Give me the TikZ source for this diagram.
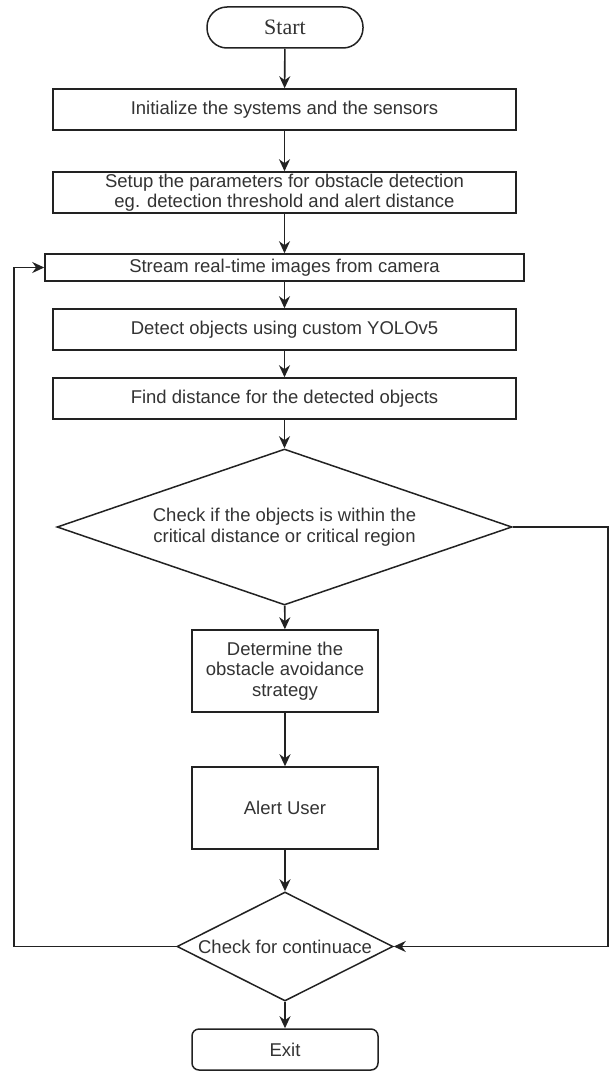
\documentclass[tikz,border=0pt]{standalone}
\usepackage{fontspec}
\setmainfont{Liberation Sans}
\newfontfamily\serifstart{Liberation Serif}
\usetikzlibrary{shapes.geometric,arrows.meta}
\definecolor{ln}{HTML}{222222}
\definecolor{tx}{HTML}{333333}
\tikzset{
  box/.style={draw=ln,line width=1.5pt,fill=white,inner sep=0pt,align=center,text=tx,font=\fontsize{18.5}{20.5}\selectfont},
  dia/.style={draw=ln,line width=1.5pt,diamond,inner sep=0pt,align=center,text=tx,font=\fontsize{18.5}{20.5}\selectfont},
  arr/.style={draw=ln,line width=1.6pt,-{Stealth[length=12pt,width=11pt]}}
}
\begin{document}
\begin{tikzpicture}[x=1pt,y=-1pt]
\useasboundingbox (0,0) rectangle (614,1073);
\node[box,rounded corners=20pt,minimum width=156pt,minimum height=41pt,font=\serifstart\fontsize{22}{24}\selectfont] (start) at (285,27.5) {Start};
\node[box,minimum width=463pt,minimum height=41pt] (init) at (284.5,109.5) {Initialize the systems and the sensors};
\node[box,minimum width=463pt,minimum height=41pt] (setup) at (284.5,192.5) {Setup the parameters for obstacle detection\\eg. detection threshold and alert distance};
\node[box,minimum width=479pt,minimum height=27pt] (stream) at (284.5,267.5) {Stream real-time images from camera};
\node[box,minimum width=463pt,minimum height=41pt] (detect) at (284.5,329.5) {Detect objects using custom YOLOv5};
\node[box,minimum width=463pt,minimum height=41pt] (find) at (284.5,398.5) {Find distance for the detected objects};
\node[dia,aspect=2.9,minimum width=455pt,minimum height=156pt] (chk) at (284.5,527) {Check if the objects is within the\\critical distance or critical region};
\node[box,minimum width=186pt,minimum height=82pt] (det) at (285,671) {Determine the\\obstacle avoidance\\strategy};
\node[box,minimum width=186pt,minimum height=82pt] (alert) at (285,808) {Alert User};
\node[dia,aspect=2,minimum width=216pt,minimum height=109pt] (cont) at (285,946.5) {Check for continuace};
\node[box,rounded corners=7pt,minimum width=186pt,minimum height=41pt] (exit) at (285,1049.5) {Exit};
\coordinate (lc) at (14,946.5);
\coordinate (rc) at (608,527);
\draw[arr] (start) -- (init);
\draw[arr] (init) -- (setup);
\draw[arr] (setup) -- (stream);
\draw[arr] (stream) -- (detect);
\draw[arr] (detect) -- (find);
\draw[arr] (find) -- (chk);
\draw[arr] (chk) -- (det);
\draw[arr] (det) -- (alert);
\draw[arr] (alert) -- (cont);
\draw[arr] (cont) -- (exit);
\draw[arr] (cont.west) -- (lc) |- (stream.west);
\draw[arr] (chk.east) -- (rc) |- (cont.east);
\end{tikzpicture}
\end{document}
